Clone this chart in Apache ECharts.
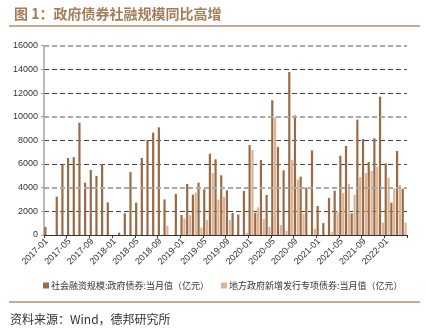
<!DOCTYPE html>
<html>
<head>
<meta charset="utf-8">
<script src="https://cdn.jsdelivr.net/npm/echarts@6/dist/echarts.min.js"></script>
<style>
  html, body { margin: 0; padding: 0; background: #fff; }
  #chart { width: 426px; height: 330px; }
</style>
</head>
<body>
<div id="chart"></div>
<script>
// Monthly categories, 2017-01 through 2022-04
var startYear = 2017, startMonth = 1, monthCount = 64;
var categories = [];
for (var i = 0; i < monthCount; i++) {
  var m = startMonth - 1 + i;
  var y = startYear + Math.floor(m / 12);
  var mm = (m % 12) + 1;
  categories.push(y + '-' + (mm < 10 ? '0' + mm : mm));
}

// 社会融资规模：政府债券：当月值（亿元）
var govBond = [
  680, null, 3240, 5950, 6510, 6580, 9490, 4420, 5500, 5000, 6000, 2760,
  null, 200, 1830, 5320, 2730, 6510, 8030, 8650, 9100, 3010, null, 3460,
  1690, 4310, 3410, 4420, 3860, 6870, 6400, 5050, 3775, 1860, 1730, 3720,
  7600, 1880, 6340, 3380, 11380, 7440, 5465, 13780, 10110, 4930, 4000, 7150,
  2450, 1010, 3130, 3750, 6700, 7520, 1830, 9750, 8110, 6170, 8170, 11690,
  6060, 2730, 7100, 3920
];

// 地方政府新增发行专项债券：当月值（亿元）
var specialBond = [
  null, null, null, null, null, null, null, null, null, null, null, null,
  null, null, null, null, null, null, null, null, null, 760, null, null,
  1410, 1660, 3580, 620, 1270, 5240, 3000, 3230, 1260, null, null, 200,
  7180, 2340, 1340, 690, 9960, 830, 340, 6340, 4700, 1800, null, 540,
  null, null, 250, 1940, 3550, 4310, 3410, 4900, 5240, 5410, 5770, 1040,
  4850, 3940, 4230, 1040
];

var seriesNames = [
  '社会融资规模:政府债券:当月值（亿元）',
  '地方政府新增发行专项债券:当月值（亿元）'
];

// Emphasised (lighter, heavier) grid rows
var accentRows = [4000, 10000, 16000];

var chart = echarts.init(document.getElementById('chart'), null, { renderer: 'canvas' });

chart.setOption({
  animation: false,
  backgroundColor: '#ffffff',
  title: {
    text: '图 1：政府债券社融规模同比高增',
    left: 9,
    top: 2,
    textStyle: {
      fontFamily: 'Noto Sans CJK SC',
      fontSize: 14,
      fontWeight: 'bold',
      color: '#a57c58'
    }
  },
  graphic: [
    {
      type: 'line',
      shape: { x1: 9, y1: 26, x2: 420, y2: 26 },
      style: { stroke: '#b48c6a', lineWidth: 1.5 }
    },
    {
      type: 'line',
      shape: { x1: 9, y1: 302, x2: 420, y2: 302 },
      style: { stroke: '#b48c6a', lineWidth: 1.5 }
    },
    {
      type: 'text',
      left: 10,
      top: 313,
      style: {
        text: '资料来源：Wind，德邦研究所',
        font: '12px "Noto Sans CJK SC"',
        fill: '#333333'
      }
    }
  ],
  legend: {
    left: 38,
    top: 276,
    itemWidth: 6,
    itemHeight: 6,
    itemGap: 12,
    textStyle: {
      fontFamily: 'Noto Sans CJK SC',
      fontSize: 9,
      color: '#333333',
      padding: [0, 0, 0, -3]
    },
    data: [
      { name: seriesNames[0], icon: 'rect' },
      { name: seriesNames[1], icon: 'rect' }
    ]
  },
  grid: {
    left: 44,
    right: 19,
    top: 45.7,
    bottom: 95,
    containLabel: false
  },
  xAxis: {
    type: 'category',
    data: categories,
    boundaryGap: true,
    axisLine: { lineStyle: { color: '#333333', width: 1 } },
    axisTick: {
      show: true,
      interval: 3,
      alignWithLabel: false,
      length: 3,
      lineStyle: { color: '#333333' }
    },
    axisLabel: {
      interval: 3,
      rotate: 45,
      fontFamily: 'Liberation Sans',
      fontSize: 9,
      color: '#333333',
      margin: 5
    },
    splitLine: { show: false }
  },
  yAxis: {
    type: 'value',
    min: 0,
    max: 16000,
    interval: 2000,
    axisLine: { show: true, lineStyle: { color: '#a0a0a0', width: 1.5 } },
    axisTick: { show: true, length: 3, lineStyle: { color: '#a0a0a0' } },
    axisLabel: {
      fontFamily: 'Liberation Sans',
      fontSize: 9,
      color: '#333333',
      margin: 6,
      formatter: function (v) { return String(v); }
    },
    splitLine: {
      show: true,
      lineStyle: {
        color: ['#444444', '#444444', 'rgba(0,0,0,0)'],
        width: 1,
        type: [5, 3]
      }
    }
  },
  series: [
    {
      name: seriesNames[0],
      type: 'bar',
      data: govBond,
      barWidth: 2.2,
      barGap: '30%',
      itemStyle: { color: '#9b6a44' },
      markLine: {
        silent: true,
        symbol: 'none',
        label: { show: false },
        lineStyle: { color: '#aaaaaa', width: 2, type: [5, 3] },
        data: accentRows.map(function (v) { return { yAxis: v }; })
      }
    },
    {
      name: seriesNames[1],
      type: 'bar',
      data: specialBond,
      barWidth: 2.2,
      itemStyle: { color: '#dbb496' }
    }
  ]
});
</script>
</body>
</html>
